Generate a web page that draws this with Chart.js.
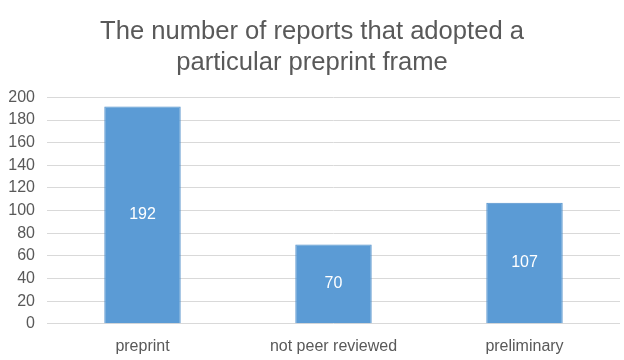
<!DOCTYPE html>
<html>
<head>
<meta charset="utf-8">
<script src="https://cdn.jsdelivr.net/npm/chart.js@4/dist/chart.umd.min.js"></script>
<style>
  html, body { margin: 0; padding: 0; background: #fff; }
  #wrap { width: 624px; height: 360px; }
</style>
</head>
<body>
<div id="wrap"><canvas id="chart" width="624" height="360"></canvas></div>
<script>
"use strict";

// data
const categories = ['preprint', 'not peer reviewed', 'preliminary'];
const reports = [192, 70, 107];
const yTicks = [0, 20, 40, 60, 80, 100, 120, 140, 160, 180, 200];

const textGray = '#595959';
const fontName = '"Liberation Sans", Arial, sans-serif';

// white value labels in the middle of each bar
const barLabels = {
  id: 'barLabels',
  afterDatasetsDraw(chart) {
    const ctx = chart.ctx;
    const meta = chart.getDatasetMeta(0);
    ctx.save();
    ctx.fillStyle = '#ffffff';
    ctx.font = '16px ' + fontName;
    ctx.textAlign = 'center';
    ctx.textBaseline = 'middle';
    meta.data.forEach((bar, i) => {
      const mid = (bar.y + bar.base) / 2;
      ctx.fillText(String(reports[i]), bar.x, mid);
    });
    ctx.restore();
  }
};

new Chart(document.getElementById('chart'), {
  type: 'bar',
  data: {
    labels: categories,
    datasets: [{
      data: reports,
      backgroundColor: '#5b9bd5',
      borderColor: '#4f8fca',
      borderWidth: 1,
      categoryPercentage: 0.40,
      barPercentage: 1.0
    }]
  },
  options: {
    responsive: false,
    animation: false,
    layout: { padding: { top: 17, right: 4, left: 4, bottom: -9 } },
    plugins: {
      legend: { display: false },
      tooltip: { enabled: false },
      title: {
        display: true,
        text: ['The number of reports that adopted a', 'particular preprint frame'],
        color: textGray,
        font: { family: fontName, size: 25.6, weight: 'normal', lineHeight: 1.2 },
        padding: { top: 0, bottom: 19 }
      }
    },
    scales: {
      x: {
        grid: { display: false, drawTicks: false },
        border: { display: false },
        ticks: { color: textGray, font: { family: fontName, size: 16 }, padding: 13, maxRotation: 0, autoSkip: false }
      },
      y: {
        min: 0,
        max: 200,
        afterBuildTicks(scale) { scale.ticks = yTicks.map(v => ({ value: v })); },
        afterFit(scale) { scale.width = 43; },
        grid: { color: '#d9d9d9', lineWidth: 1, drawTicks: false },
        border: { display: false },
        ticks: { color: textGray, font: { family: fontName, size: 16, lineHeight: 1 }, padding: 12, autoSkip: false }
      }
    }
  },
  plugins: [barLabels]
});
</script>
</body>
</html>
